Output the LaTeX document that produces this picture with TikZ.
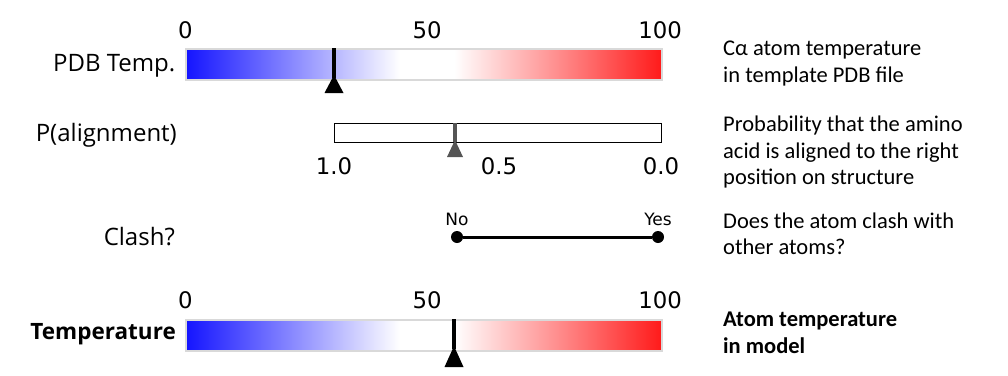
\documentclass[tikz,border=0pt]{standalone}
\usepackage{fontspec}
\setmainfont{Open Sans}
\newfontfamily\numfont{DejaVu Sans}
\newfontfamily\descfont{Carlito}
\definecolor{barblue}{HTML}{1414FF}
\definecolor{barred}{HTML}{FF1A1A}
\definecolor{barframe}{HTML}{D9D9D9}
\definecolor{markgray}{HTML}{555555}
\pgfdeclarehorizontalshading{tempgrad}{100bp}{color(0bp)=(barblue); color(25bp)=(barblue); color(47.5bp)=(white); color(53.2bp)=(white); color(75bp)=(barred); color(100bp)=(barred)}
\tikzset{
  leftlab/.style={anchor=base east, inner sep=0pt, font=\fontsize{24}{28}\selectfont},
  numlab/.style={inner sep=0pt, anchor=base, font=\numfont\fontsize{22.8}{26}\selectfont},
  smalllab/.style={inner sep=0pt, anchor=base, font=\numfont\fontsize{17}{20}\selectfont},
  desc/.style={anchor=base west, inner sep=0pt, align=left, font=\descfont\fontsize{22.5}{26.5}\selectfont},
  tempbar/.style={draw=barframe, line width=1.5pt, shading=tempgrad, inner sep=0pt, minimum width=476pt, minimum height=31pt, anchor=north west},
  probbar/.style={draw=black, line width=1pt, fill=white, inner sep=0pt, minimum width=327pt, minimum height=19pt, anchor=north west},
  dot/.style={circle, fill=black, inner sep=0pt, minimum size=12pt},
}
\begin{document}
\begin{tikzpicture}[x=1pt,y=-1pt]
\useasboundingbox (0,0) rectangle (1008,375);
% Row 1
\node[leftlab] (l1) at (175.5,71) {PDB Temp.};
\node[tempbar] (b1) at (185,48) {};
\node[numlab] (n10) at (185.5,38) {0};
\node[numlab] (n150) at (427,38) {50};
\node[numlab] (n1100) at (660,38) {100};
\draw[line width=4pt] (334,48) -- (334,78);
\fill (334,75) -- (324.5,93) -- (343.5,93) -- cycle;
\node[desc] (d1) at (723,82) {Cα atom temperature\\in template PDB file};
% Row 2
\node[leftlab] (l2) at (177,141) {P(alignment)};
\node[probbar] (b2) at (334,123) {};
\draw[markgray, line width=4pt] (455,123) -- (455,142);
\fill[markgray] (455,140) -- (447,157) -- (463,157) -- cycle;
\node[numlab] (n21) at (334,174) {1.0};
\node[numlab] (n205) at (499,174) {0.5};
\node[numlab] (n200) at (661,174) {0.0};
\node[desc] (d2) at (723,184.7) {Probability that the amino\\acid is aligned to the right\\position on structure};
% Row 3
\node[leftlab] (l3) at (175,245.5) {Clash?};
\node[dot] (no) at (457,237) {};
\node[dot] (yes) at (658,237) {};
\draw[line width=3pt] (no) -- (yes);
\node[smalllab] (nolab) at (457,225) {No};
\node[smalllab] (yeslab) at (658,225) {Yes};
\node[desc] (d3) at (723,254.5) {Does the atom clash with\\other atoms?};
% Row 4
\node[leftlab, font=\bfseries\fontsize{22.5}{26}\selectfont] (l4) at (176,339) {Temperature};
\node[tempbar] (b4) at (185,319) {};
\node[numlab] (n40) at (185.5,308.5) {0};
\node[numlab] (n450) at (427,308.5) {50};
\node[numlab] (n4100) at (660,308.5) {100};
\draw[line width=4pt] (454,319) -- (454,349);
\fill (454,346) -- (444.5,367) -- (463.5,367) -- cycle;
\node[desc, font=\descfont\bfseries\fontsize{22.5}{26.5}\selectfont] (d4) at (723,353.2) {Atom temperature\\in model};
\end{tikzpicture}
\end{document}
